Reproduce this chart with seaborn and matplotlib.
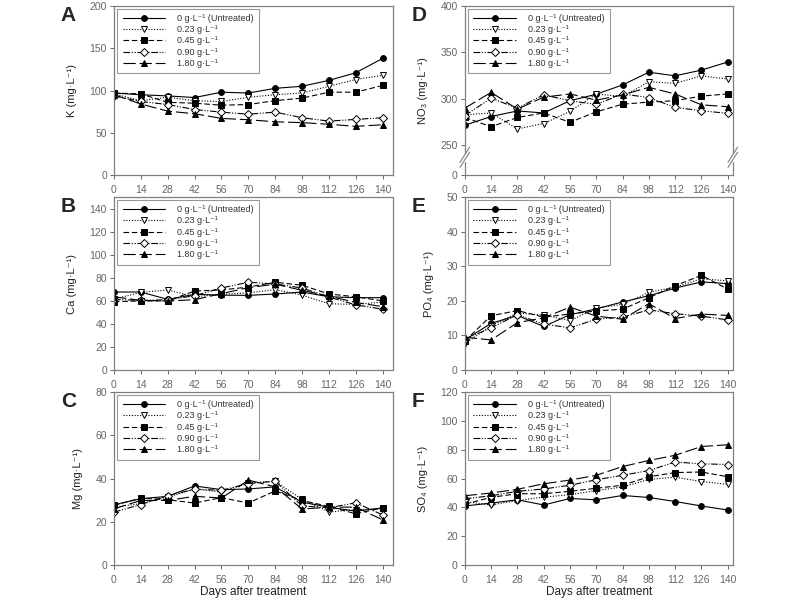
import numpy as np
import matplotlib
matplotlib.use("Agg")
import matplotlib.pyplot as plt
import seaborn as sns

# sampling days
days = [0, 14, 28, 42, 56, 70, 84, 98, 112, 126, 140]
doses = ["0 g·L⁻¹ (Untreated)", "0.23 g·L⁻¹", "0.45 g·L⁻¹", "0.90 g·L⁻¹", "1.80 g·L⁻¹"]

# K (mg/L), one list per dose
k_vals = [
    [97, 95, 93.6, 91.7, 98, 97, 102.6, 105, 112, 121, 138],
    [96, 88, 92, 88, 87, 92, 95, 97, 105, 113, 118],
    [97, 96, 86, 85, 82.6, 83.4, 88, 91, 98, 98, 106],
    [93.6, 87, 83.4, 77.5, 74.4, 72, 74.4, 67.8, 63.8, 65.8, 67.8],
    [95, 84, 75.6, 72.5, 67, 65.4, 63, 62, 60, 57.6, 59.5],
]
# Ca
ca_vals = [
    [67.7, 67.7, 61.3, 65.7, 65, 64.8, 66, 67.7, 63.6, 62.8, 62.8],
    [61.6, 67.4, 69.5, 63.6, 65.7, 67, 69.8, 65, 57.5, 57, 59],
    [59.3, 60, 60, 68.6, 69.5, 72, 76.2, 73.6, 66, 63.6, 60],
    [61.3, 60.4, 61, 64.5, 71.2, 76.2, 74.7, 71.2, 63.4, 56.6, 52.8],
    [63.6, 60.4, 60, 61, 66.3, 71.5, 74.5, 69.2, 64.2, 58.7, 55],
]
# Mg
mg_vals = [
    [27.9, 30.7, 31.8, 36.6, 34.9, 35.2, 36.2, 29.1, 26.8, 24.9, 26.5],
    [26.8, 28.4, 31.5, 35.2, 33.8, 38, 38.8, 30.4, 24.6, 25.6, 26],
    [27.6, 31, 30.2, 28.7, 31.2, 28.7, 34.3, 29.9, 27.1, 23.7, 26.5],
    [24.5, 28, 32.1, 35.1, 34.6, 37.7, 38.8, 27.4, 26.5, 28.8, 23.2],
    [26, 29.9, 29.9, 31.8, 31, 39.3, 36.2, 25.9, 26.8, 26.8, 20.9],
]
# NO3
no3_vals = [
    [271.6, 281, 287, 284.8, 298, 305, 315, 328.7, 324.8, 331, 339.7],
    [283, 284.7, 267.7, 273.4, 286.5, 305.3, 302.5, 318.4, 316.7, 324.8, 321.3],
    [280, 270, 280, 284.8, 274.8, 286, 294.3, 296.5, 298, 303, 305.3],
    [282, 300.7, 290, 304.3, 298, 294, 305.3, 301.4, 290.8, 287.2, 284.4],
    [290, 307, 289, 301.8, 305.3, 298.6, 304.3, 312.4, 305.3, 293.6, 291.5],
]
# PO4
po4_vals = [
    [8.7, 13.5, 15.8, 12.6, 16, 17.7, 19.7, 21.5, 23.7, 25.5, 25],
    [7.6, 12.8, 16.5, 15.9, 14.3, 17.9, 19, 22.5, 24, 26.4, 25.8],
    [8.4, 15.7, 17.2, 15.3, 16.2, 17.1, 17.6, 20.9, 24.4, 27.4, 23.4],
    [8.9, 12.2, 16, 13.3, 12.2, 14.7, 15.3, 17.4, 16.3, 15.6, 14.5],
    [9.5, 8.7, 13.7, 15.1, 18.2, 15.6, 14.7, 19.2, 14.9, 16.2, 15.8],
]
# SO4
so4_vals = [
    [41, 43, 45.3, 41.7, 46.2, 45.3, 48.3, 46.9, 44.1, 41, 38.2],
    [44, 41.7, 44.8, 47.2, 48.8, 51.7, 54.2, 59.4, 61, 58, 56],
    [42.2, 47, 49.5, 49.5, 51.2, 53.3, 55.4, 61.3, 64.2, 64.6, 61.3],
    [46, 48.1, 51.2, 52.8, 55.4, 59.2, 62.3, 65.6, 71.5, 70.3, 69.8],
    [48.1, 50, 52.6, 56.4, 59, 62.3, 68.4, 72.6, 76.2, 82.3, 83.5],
]

sns.set_style("ticks")
plt.rcParams["font.family"] = ["Liberation Sans", "DejaVu Sans"]

# marker, face colour, line style for each dose
line_styles = [
    ("o", "black", "-"),
    ("v", "white", (0, (1, 1.5))),
    ("s", "black", (0, (5, 2.5))),
    ("D", "white", (0, (6, 1.5, 1, 1.5, 1, 1.5))),
    ("^", "black", (0, (11, 3.5))),
]

grey = "#7f7f7f"


def fwd(y):
    y = np.asarray(y, dtype=float)
    return np.where(y >= 250, y, 250 - (250 - y) * 0.128)


def inv(y):
    y = np.asarray(y, dtype=float)
    return np.where(y >= 250, y, 250 - (250 - y) / 0.128)


panels = [
    ("A", k_vals, "K (mg·L⁻¹)", [0, 50, 100, 150, 200], (0, 200), 0),
    ("B", ca_vals, "Ca (mg·L⁻¹)", list(range(0, 141, 20)), (0, 150), 0),
    ("C", mg_vals, "Mg (mg·L⁻¹)", [0, 20, 40, 60, 80], (0, 80), 0),
    ("D", no3_vals, "NO₃ (mg·L⁻¹)", [0, 250, 300, 350, 400], (0, 400), 1),
    ("E", po4_vals, "PO₄ (mg·L⁻¹)", [0, 10, 20, 30, 40, 50], (0, 50), 1),
    ("F", so4_vals, "SO₄ (mg·L⁻¹)", list(range(0, 121, 20)), (0, 120), 1),
]

fig = plt.figure(figsize=(8, 6), dpi=100)
col_x = [(0.1425, 0.349, 145.5), (0.581, 0.335, 142.7)]
row_y = [(0.7083, 0.2817), (0.3833, 0.288), (0.0583, 0.288)]

for i, (letter, vals, ylab, yticks, ylim, col) in enumerate(panels):
    row = i % 3
    x0, w, xmax = col_x[col]
    y0, h = row_y[row]
    ax = fig.add_axes([x0, y0, w, h])

    for j, (dose, series) in enumerate(zip(doses, vals)):
        mk, fc, ls = line_styles[j]
        sns.lineplot(x=days, y=series, ax=ax, color="black", marker=mk,
                     markerfacecolor=fc, markeredgecolor="black",
                     markersize=4.2 if mk != "D" else 3.6, markeredgewidth=0.7,
                     linestyle=ls, linewidth=0.8, label=dose)

    if letter == "D":
        ax.set_yscale("function", functions=(fwd, inv))
    ax.set_xlim(0, xmax)
    ax.set_ylim(*ylim)
    ax.set_xticks(days)
    ax.set_yticks(yticks)
    ax.tick_params(colors="#666666", labelsize=7.5, length=3, width=0.7,
                   direction="out", pad=2)
    ax.tick_params(axis="x", pad=4)
    for sp in ax.spines.values():
        sp.set_color(grey)
        sp.set_linewidth(0.9)
    ax.set_ylabel(ylab, fontsize=8, color="#222222", labelpad=9)
    ax.set_xlabel("")
    if row == 2:
        ax.set_xlabel("Days after treatment", fontsize=8.5, color="#222222", labelpad=1)

    leg = ax.legend(loc="upper left", bbox_to_anchor=(0.012, 0.985),
                    fontsize=6.5, handlelength=4.7, handletextpad=1.3,
                    labelspacing=0.25, borderpad=0.6, frameon=True,
                    fancybox=False, edgecolor=grey, borderaxespad=0)
    leg.get_frame().set_linewidth(0.8)
    for t in leg.get_texts():
        t.set_color("#333333")

    ax.text(-0.19 if col == 0 else -0.2, 1.0, letter, transform=ax.transAxes,
            fontsize=15, fontweight="bold", va="top", ha="left")

    if letter == "D":
        # axis break marks on both sides
        yb = 0.105
        dx, dy = 0.018, 0.045
        off = 0.03
        for xs in (0, 1):
            ax.plot([xs, xs], [yb - off / 2, yb + off / 2], color="white",
                    lw=2.5, transform=ax.transAxes, clip_on=False, zorder=5)
            for d in (-off / 2, off / 2):
                ax.plot([xs - dx, xs + dx], [yb + d - dy, yb + d + dy],
                        color=grey, lw=0.8, transform=ax.transAxes,
                        clip_on=False, zorder=6)

fig.savefig("out.png", dpi=100)
